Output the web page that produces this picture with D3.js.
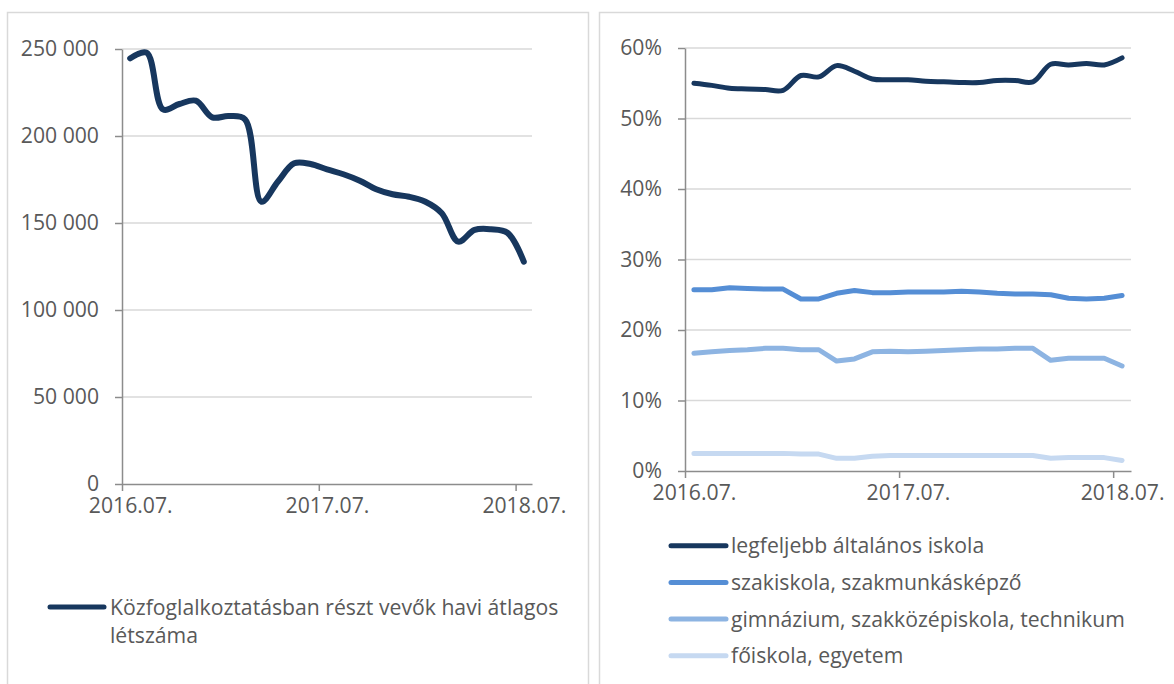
<!DOCTYPE html>
<html>
<head>
<meta charset="utf-8">
<script src="https://cdn.jsdelivr.net/npm/d3@7"></script>
<style>
body { margin: 0; background: #fff; }
svg { display: block; font-family: "Open Sans", sans-serif; }
</style>
</head>
<body>
<svg id="chart" width="1174" height="684"></svg>
<script>
// months on both x axes
var months = ["2016.07.", "2016.08.", "2016.09.", "2016.10.", "2016.11.", "2016.12.",
  "2017.01.", "2017.02.", "2017.03.", "2017.04.", "2017.05.", "2017.06.",
  "2017.07.", "2017.08.", "2017.09.", "2017.10.", "2017.11.", "2017.12.",
  "2018.01.", "2018.02.", "2018.03.", "2018.04.", "2018.05.", "2018.06.", "2018.07."];
var monthTicks = [0, 12, 24];

// left chart: average monthly headcount
var headcount = [244600, 247900, 215300, 218400, 220300, 210700, 211500, 209600, 162200,
  173700, 184300, 183900, 180800, 178000, 174300, 169400, 166500, 165100, 162200,
  155600, 139300, 146000, 146400, 144400, 127800];
var headcountName = ["Közfoglalkoztatásban részt vevők havi átlagos", "létszáma"];

// right chart: share by education level (%)
var primary = [55.0, 54.7, 54.3, 54.2, 54.1, 54.0, 56.1, 55.9, 57.5, 56.7, 55.6, 55.5, 55.5,
  55.3, 55.2, 55.1, 55.1, 55.4, 55.4, 55.2, 57.7, 57.6, 57.8, 57.6, 58.6];
var vocational = [25.7, 25.7, 26.0, 25.9, 25.8, 25.8, 24.4, 24.4, 25.2, 25.6, 25.3, 25.3, 25.4,
  25.4, 25.4, 25.5, 25.4, 25.2, 25.1, 25.1, 25.0, 24.5, 24.4, 24.5, 24.9];
var secondary = [16.7, 16.9, 17.1, 17.2, 17.4, 17.4, 17.2, 17.2, 15.6, 15.9, 16.9, 17.0, 16.9,
  17.0, 17.1, 17.2, 17.3, 17.3, 17.4, 17.4, 15.7, 16.0, 16.0, 16.0, 14.9];
var tertiary = [2.5, 2.5, 2.5, 2.5, 2.5, 2.5, 2.4, 2.4, 1.8, 1.8, 2.1, 2.2, 2.2,
  2.2, 2.2, 2.2, 2.2, 2.2, 2.2, 2.2, 1.8, 1.9, 1.9, 1.9, 1.5];
var shareNames = ["legfeljebb általános iskola", "szakiskola, szakmunkásképző",
  "gimnázium, szakközépiskola, technikum", "főiskola, egyetem"];

var shareSeries = [primary, vocational, secondary, tertiary];
var shareColors = ["#17375e", "#558ed5", "#8db4e2", "#c6d9f1"];

var textColor = "#595959", axisColor = "#8c8c8c", gridColor = "#d9d9d9";
var fontSize = 21.2;

var svg = d3.select("#chart");

// panel frames
svg.append("rect").attr("x", 7.5).attr("y", 12.5).attr("width", 581).attr("height", 700)
  .attr("fill", "none").attr("stroke", gridColor).attr("stroke-width", 1.5);
svg.append("rect").attr("x", 599.5).attr("y", 12.5).attr("width", 620).attr("height", 700)
  .attr("fill", "none").attr("stroke", gridColor).attr("stroke-width", 1.5);

var spaceFormat = d3.formatLocale({decimal: ",", thousands: " ", grouping: [3], currency: ["", ""]}).format(",");

function drawPanel(opt) {
  var x = d3.scaleLinear().domain([0, months.length]).range([opt.left, opt.right]);
  var y = d3.scaleLinear().domain([0, opt.max]).range([opt.bottom, opt.top]);

  // gridlines
  svg.append("g").selectAll("line")
    .data(opt.ticks.filter(function(d){ return d > 0; }))
    .enter().append("line")
    .attr("x1", opt.left).attr("x2", opt.right)
    .attr("y1", function(d){ return y(d); }).attr("y2", function(d){ return y(d); })
    .attr("stroke", gridColor).attr("stroke-width", 1.5);

  // y axis
  var gy = svg.append("g")
    .attr("transform", "translate(" + opt.left + ",0)")
    .call(d3.axisLeft(y).tickValues(opt.ticks).tickSize(7).tickSizeOuter(0)
      .tickPadding(16).tickFormat(opt.format));

  // x axis ticks
  var gx = svg.append("g")
    .attr("transform", "translate(0," + opt.bottom + ")")
    .call(d3.axisBottom(x).tickValues(monthTicks).tickSize(7).tickSizeOuter(0).tickFormat(""));

  // x axis labels, centred on the month
  var gl = svg.append("g")
    .attr("transform", "translate(0," + opt.bottom + ")")
    .call(d3.axisBottom(x).tickValues(monthTicks.map(function(i){ return i + 0.5; }))
      .tickSize(0).tickPadding(14)
      .tickFormat(function(d){ return months[Math.floor(d)]; }));
  gl.select(".domain").remove();

  [gy, gx, gl].forEach(function(g) {
    g.select(".domain").attr("stroke", axisColor).attr("stroke-width", 1.5);
    g.selectAll(".tick line").attr("stroke", axisColor).attr("stroke-width", 1.5);
    g.selectAll("text").attr("fill", textColor).style("font-size", fontSize + "px")
      .style("font-family", "'Open Sans', sans-serif");
  });

  opt.series.forEach(function(s, k) {
    var line = d3.line()
      .x(function(d, i){ return x(i + 0.5); })
      .y(function(d){ return y(d); })
      .curve(opt.smooth[k] ? d3.curveCatmullRom : d3.curveLinear);
    svg.append("path")
      .datum(s)
      .attr("d", line)
      .attr("fill", "none")
      .attr("stroke", opt.colors[k])
      .attr("stroke-width", opt.width)
      .attr("stroke-linecap", "round")
      .attr("stroke-linejoin", "round");
  });
}

drawPanel({
  left: 122, right: 532, top: 49, bottom: 484, max: 250000,
  ticks: [0, 50000, 100000, 150000, 200000, 250000],
  format: spaceFormat,
  series: [headcount], colors: ["#17375e"], smooth: [true], width: 6
});

drawPanel({
  left: 685, right: 1131, top: 48, bottom: 471, max: 60,
  ticks: [0, 10, 20, 30, 40, 50, 60],
  format: function(d){ return d + "%"; },
  series: shareSeries, colors: shareColors, smooth: [true, false, false, false], width: 5
});

// left legend
svg.append("line").attr("x1", 50).attr("x2", 104).attr("y1", 607).attr("y2", 607)
  .attr("stroke", "#17375e").attr("stroke-width", 5).attr("stroke-linecap", "round");
svg.append("text")
  .attr("fill", textColor).style("font-size", fontSize + "px")
  .selectAll("tspan").data(headcountName).enter().append("tspan")
  .attr("x", 110).attr("y", function(d, i){ return 614.5 + i * 28.5; })
  .text(function(d){ return d; });

// right legend
var leg = svg.append("g").selectAll("g").data(shareNames).enter().append("g")
  .attr("transform", function(d, i){ return "translate(0," + (545.7 + i * 36.7) + ")"; });
leg.append("line").attr("x1", 671).attr("x2", 726)
  .attr("stroke", function(d, i){ return shareColors[i]; })
  .attr("stroke-width", 5).attr("stroke-linecap", "round");
leg.append("text").attr("x", 731).attr("y", 7.5)
  .attr("fill", textColor).style("font-size", fontSize + "px")
  .text(function(d){ return d; });
</script>
</body>
</html>
